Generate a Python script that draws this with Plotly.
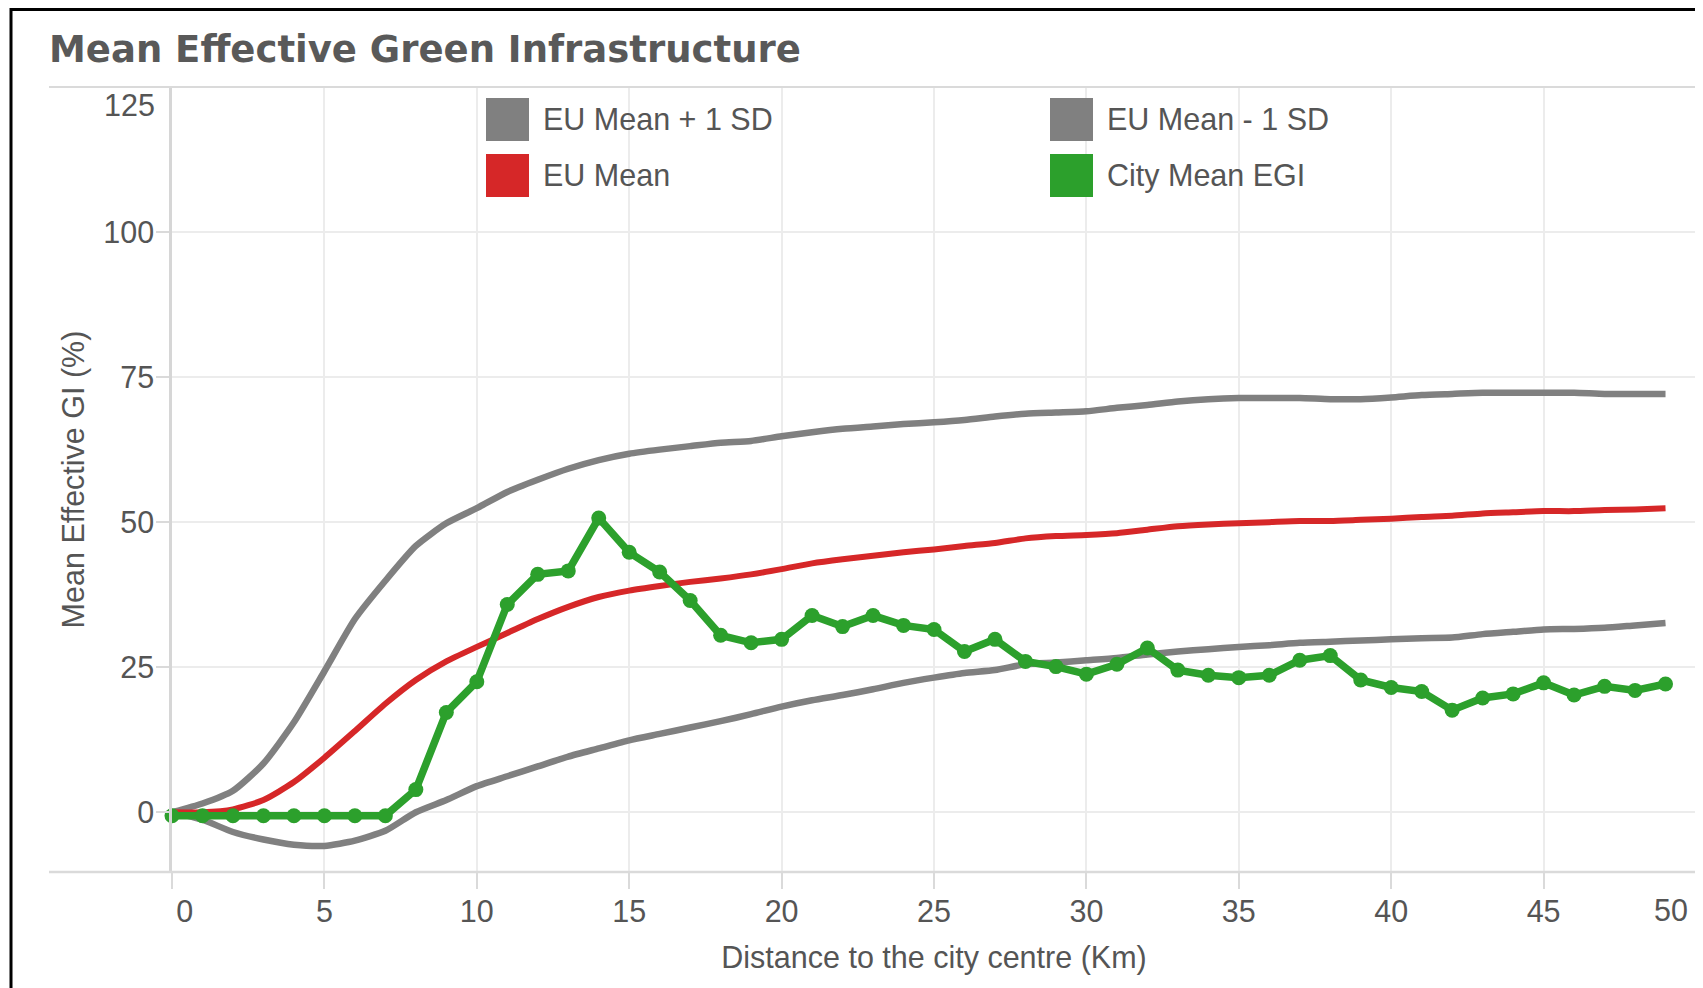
import plotly.graph_objects as go

# distance from the city centre, one point per km
km = list(range(50))

eu_mean_plus_sd = [
    0.0, 1.5, 3.7, 8.4, 15.5, 24.3, 33.3, 39.9, 45.9, 49.8,
    52.4, 55.2, 57.3, 59.2, 60.7, 61.8, 62.5, 63.1, 63.7, 64.0,
    64.8, 65.5, 66.1, 66.5, 66.9, 67.2, 67.6, 68.2, 68.7, 68.9,
    69.1, 69.7, 70.2, 70.8, 71.2, 71.4, 71.4, 71.4, 71.2, 71.2,
    71.5, 71.9, 72.1, 72.3, 72.3, 72.3, 72.3, 72.1, 72.1, 72.1,
]
eu_mean = [
    0.0, 0.0, 0.5, 2.1, 5.2, 9.4, 14.0, 18.7, 22.8, 26.0,
    28.5, 30.9, 33.3, 35.4, 37.1, 38.2, 39.0, 39.7, 40.3, 41.0,
    41.9, 42.9, 43.6, 44.2, 44.8, 45.3, 45.9, 46.4, 47.2, 47.6,
    47.8, 48.1, 48.7, 49.3, 49.6, 49.8, 50.0, 50.2, 50.2, 50.4,
    50.6, 50.9, 51.1, 51.5, 51.7, 51.9, 51.9, 52.1, 52.2, 52.4,
]
eu_mean_minus_sd = [
    0.0, -1.3, -3.4, -4.7, -5.6, -5.8, -4.9, -3.2, 0.0, 2.1,
    4.5, 6.2, 7.9, 9.6, 11.0, 12.4, 13.5, 14.6, 15.7, 16.9,
    18.2, 19.3, 20.2, 21.2, 22.3, 23.2, 24.0, 24.5, 25.5, 25.8,
    26.2, 26.6, 27.2, 27.7, 28.1, 28.5, 28.8, 29.2, 29.4, 29.6,
    29.8, 30.0, 30.1, 30.7, 31.1, 31.5, 31.6, 31.8, 32.2, 32.6,
]
city_mean_egi = [
    -0.6, -0.6, -0.6, -0.6, -0.6, -0.6, -0.6, -0.6, 3.9, 17.2,
    22.5, 35.8, 41.0, 41.6, 50.7, 44.8, 41.4, 36.5, 30.5, 29.2,
    29.8, 33.9, 32.0, 33.9, 32.2, 31.5, 27.7, 29.8, 26.0, 25.1,
    23.8, 25.5, 28.3, 24.5, 23.6, 23.2, 23.6, 26.2, 27.0, 22.8,
    21.5, 20.8, 17.6, 19.7, 20.4, 22.3, 20.2, 21.7, 21.0, 22.1,
]

x_ticks = [0, 5, 10, 15, 20, 25, 30, 35, 40, 45, 50]
# the end labels are nudged inwards as in the original; "50" is added below
x_ticktext = ["\u00a0\u00a0\u00a00", "5", "10", "15", "20", "25", "30", "35", "40", "45", ""]
y_ticks = [0, 25, 50, 75, 100]

GREY = "#808080"
RED = "#d62728"
GREEN = "#2ca02c"
TXT = "#555555"
FONT = "Liberation Sans, Arial, sans-serif"
FS = 30.5

# the page body has an 8px margin, so the figure is 8px smaller and
# all positions below are given in window pixels and shifted back
OFF = 8
W, H = 1703 - OFF, 988 - OFF
L, R, T, B = 172 - OFF, 7, 87 - OFF, 116
PW, PH = W - L - R, H - T - B


def px_x(px):
    return (px - OFF - L) / PW


def px_y(py):
    return 1 - (py - OFF - T) / PH


fig = go.Figure()
fig.add_trace(go.Scatter(x=km, y=eu_mean_plus_sd, mode="lines", name="EU Mean + 1 SD",
                         line=dict(color=GREY, width=6.5, shape="spline", smoothing=0.6)))
fig.add_trace(go.Scatter(x=km, y=eu_mean_minus_sd, mode="lines", name="EU Mean - 1 SD",
                         line=dict(color=GREY, width=6.5, shape="spline", smoothing=0.6)))
fig.add_trace(go.Scatter(x=km, y=eu_mean, mode="lines", name="EU Mean",
                         line=dict(color=RED, width=6, shape="spline", smoothing=0.6)))
fig.add_trace(go.Scatter(x=km, y=city_mean_egi, mode="lines+markers", name="City Mean EGI",
                         line=dict(color=GREEN, width=7.5),
                         marker=dict(color=GREEN, size=15), cliponaxis=False))

shapes = [
    # outer frame
    dict(type="rect", xref="paper", yref="paper", x0=px_x(11), x1=px_x(1800),
         y0=px_y(1200), y1=px_y(9.5), line=dict(color="black", width=3)),
    # top and bottom pane lines
    dict(type="line", xref="paper", yref="paper", x0=px_x(49), x1=px_x(1703),
         y0=1, y1=1, line=dict(color="#dadada", width=2)),
    dict(type="line", xref="paper", yref="paper", x0=px_x(49), x1=px_x(1703),
         y0=0, y1=0, line=dict(color="#dadada", width=2.5)),
    # last gridline and its tick at the right edge
    dict(type="line", xref="x", yref="paper", x0=50, x1=50, y0=0, y1=1,
         layer="below", line=dict(color="#ececec", width=1.5)),
    dict(type="line", xref="x", yref="paper", x0=50, x1=50, y0=px_y(889), y1=0,
         line=dict(color="#dadada", width=2)),
    # zero reference line
    dict(type="line", xref="paper", yref="y", x0=0, x1=px_x(1703), y0=0, y1=0,
         layer="below", line=dict(color="#666666", width=1.5, dash="dot")),
]

# legend drawn by hand (large square swatches)
legend_items = [
    ("EU Mean + 1 SD", GREY, 486, 98),
    ("EU Mean", RED, 486, 154),
    ("EU Mean - 1 SD", GREY, 1050, 98),
    ("City Mean EGI", GREEN, 1050, 154),
]
annotations = []
for label, color, lx, ly in legend_items:
    shapes.append(dict(type="rect", xref="paper", yref="paper",
                       x0=px_x(lx), x1=px_x(lx + 43), y0=px_y(ly + 43), y1=px_y(ly),
                       fillcolor=color, line=dict(width=0)))
    annotations.append(dict(xref="paper", yref="paper", x=px_x(lx + 55), y=px_y(ly + 21),
                            xanchor="left", yanchor="middle", showarrow=False,
                            text=label, font=dict(family=FONT, size=FS, color=TXT)))

# top tick label sits just under the pane border
annotations.append(dict(xref="paper", yref="y", x=px_x(157), y=125, yshift=-18,
                        xanchor="right", yanchor="middle", showarrow=False,
                        text="125", font=dict(family=FONT, size=FS, color=TXT)))
# last x tick label, kept inside the frame
annotations.append(dict(xref="x", yref="paper", x=x_ticks[-1], y=px_y(910), xshift=-6,
                        xanchor="right", yanchor="middle", showarrow=False,
                        text=str(x_ticks[-1]), font=dict(family=FONT, size=FS, color=TXT)))

fig.update_layout(
    width=W, height=H,
    margin=dict(l=L, r=R, t=T, b=B, autoexpand=False),
    paper_bgcolor="white", plot_bgcolor="white",
    showlegend=False,
    title=dict(text="Mean Effective Green Infrastructure",
               x=41 / W, xref="container", xanchor="left",
               y=1 - 41 / H, yref="container", yanchor="middle",
               font=dict(family="DejaVu Sans", size=37, color="#595959", weight=600)),
    shapes=shapes,
    annotations=annotations,
    xaxis=dict(range=[0, 50], tickvals=x_ticks, ticktext=x_ticktext,
               ticks="outside", ticklen=16, tickwidth=2, tickcolor="#dadada",
               showgrid=True, gridcolor="#ececec", gridwidth=1.5,
               showline=False, zeroline=False, ticklabelstandoff=-4,
               automargin=False,
               tickfont=dict(family=FONT, size=FS, color=TXT),
               title=dict(text="Distance to the city centre (Km)", standoff=20,
                          font=dict(family=FONT, size=FS, color=TXT))),
    yaxis=dict(range=[-10.3, 125], tickvals=y_ticks,
               ticks="outside", ticklen=13, tickwidth=2, tickcolor="#dadada",
               showgrid=True, gridcolor="#ececec", gridwidth=1.5,
               showline=True, linecolor="#d6d6d6", linewidth=2.5, zeroline=False,
               ticklabelstandoff=-4, automargin=False,
               tickfont=dict(family=FONT, size=FS, color=TXT),
               title=dict(text="Mean Effective GI (%)", standoff=10,
                          font=dict(family=FONT, size=FS, color=TXT))),
)

fig.write_html("out.html")
